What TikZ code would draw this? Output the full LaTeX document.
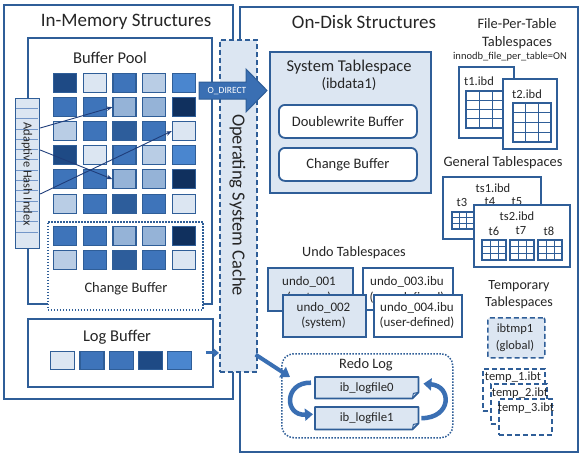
\documentclass[tikz,border=0pt]{standalone}
\usepackage{fontspec}
\setmainfont{Carlito}
\usetikzlibrary{arrows.meta,calc}
\definecolor{bord}{HTML}{2F5E98}
\definecolor{ca}{HTML}{DCE6F2}
\definecolor{cb}{HTML}{B9CDE5}
\definecolor{cc}{HTML}{95B3D7}
\definecolor{cd}{HTML}{3E74BA}
\definecolor{ce}{HTML}{4A86CF}
\definecolor{cf}{HTML}{2D5D9B}
\definecolor{cg}{HTML}{1E4A85}
\definecolor{ch}{HTML}{10305E}
\definecolor{txtc}{HTML}{262626}
\definecolor{arrc}{HTML}{3A6FB3}
\definecolor{ahiline}{HTML}{7396C8}
\definecolor{navy}{HTML}{1F3D7A}
\newcommand\gridtab[6]{%
  \draw[bord, line width=1.6, fill=white] (#1,#2) rectangle (#3,#4);
  \pgfmathtruncatemacro\gtc{#5-1}%
  \pgfmathtruncatemacro\gtr{#6-1}%
  \foreach \k in {1,...,\gtc} {\draw[bord, line width=0.9] ({#1+\k*(#3-#1)/#5},#2) -- ({#1+\k*(#3-#1)/#5},#4);}%
  \foreach \k in {1,...,\gtr} {\draw[bord, line width=0.9] (#1,{#2+\k*(#4-#2)/#6}) -- (#3,{#2+\k*(#4-#2)/#6});}%
}
\tikzset{
  frame/.style={draw=bord, line width=1.8pt, inner sep=0pt, anchor=north west},
  sq/.style={draw=bord, line width=1.2pt, inner sep=0pt, minimum width=23pt, minimum height=19pt, anchor=north west},
  lab/.style={text=txtc, inner sep=0pt, font=\fontsize{#1}{#1}\selectfont},
  lab/.default=14,
  dotbox/.style={draw=bord, line width=1.5pt, dash pattern=on 1.5pt off 1.5pt},
  dashbox/.style={draw=bord, line width=1.6pt, dash pattern=on 5pt off 3pt},
  ahiarr/.style={draw=navy, line width=0.9pt, -{Stealth[length=6pt,width=4.5pt]}},
  fatarr/.style={draw=arrc, line width=4pt, -{Triangle[length=9pt,width=12pt]}},
  curvarr/.style={draw=arrc, line width=4.5pt, -{Triangle[length=8pt,width=12pt]}},
}
\begin{document}
\begin{tikzpicture}[x=1pt,y=-1pt]
\useasboundingbox (0,0) rectangle (586,459);
\fill[white] (0,0) rectangle (586,459);

% outer frames
\node[frame, minimum width=229, minimum height=394] (inmem) at (3,4) {};
\node[frame, minimum width=338, minimum height=445] (ondisk) at (239,6) {};
\node[lab=19] (inmemtitle) at (126,22) {In-Memory Structures};
\node[lab=19] (ondisktitle) at (364,22) {On-Disk Structures};

% buffer pool
\node[frame, fill=white, minimum width=184, minimum height=266] (bufpool) at (27,37) {};
\node[lab=16.5] (bptitle) at (110,58) {Buffer Pool};
\node[dotbox, fill=white, inner sep=0pt, anchor=north west, minimum width=155, minimum height=88] (cbuf) at (47,221) {};
\node[lab=14.5] (cbtitle) at (126,289) {Change Buffer};

\foreach \r/\yy/\L in {1/73/{cg,ca,cd,cb,ce},2/97/{cd,cd,cc,cc,ch},3/121/{cb,cd,cf,cd,ca},4/145/{cg,ca,cd,cb,ce},5/169/{cd,cd,cc,cc,ch},6/194/{cb,cd,cf,cd,ca},7/226/{cd,cd,cc,cc,ch},8/250/{cb,cd,cf,cd,ca}}{
  \foreach \c [count=\i] in \L {
    \node[sq, fill=\c] (bp-\r-\i) at ({53+(\i-1)*29.7},\yy) {};
  }
}

% adaptive hash index
\node[draw=bord, fill=ca, line width=1.2pt, inner sep=0pt, anchor=north west, minimum width=24, minimum height=150] (ahi) at (15,98) {};
\foreach \k in {1,...,13} {\draw[ahiline, line width=0.8pt] ($(ahi.north west)+(0.8,\k*10.3)$) -- ++(22.4,0);}
\node[lab=12.4, rotate=-90] (ahitext) at (27,174) {Adaptive Hash Index};
\draw[ahiarr] ($(ahi.north east)+(0,30)$) -- (bp-2-3.west);
\draw[ahiarr] ($(ahi.north east)+(0,52)$) -- (bp-5-3.west);
\draw[ahiarr] ($(ahi.north east)+(0,96)$) -- (bp-3-5.west);

% log buffer
\node[frame, fill=white, minimum width=185, minimum height=68] (logbuf) at (27,318) {};
\node[lab=16.5] (lbtitle) at (117,337) {Log Buffer};
\foreach \c [count=\i] in {ca,cd,cd,cg,ce} {
  \node[sq, fill=\c, minimum width=24, minimum height=18] (lb-\i) at ({50+(\i-1)*29.3},351) {};
}

% OS cache
\node[dashbox, fill=ca, inner sep=0pt, anchor=north west, minimum width=37, minimum height=332] (oscache) at (219,39) {};
\node[lab=18.5, rotate=-90] (ostext) at (237.5,205) {Operating System Cache};
\draw[draw=arrc, line width=3pt, -{Triangle[length=5pt,width=8pt]}] ($(logbuf.east)+(-8,0)$) -- (oscache.west |- logbuf.east);

% system tablespace
\node[frame, fill=ca, line width=2.2pt, minimum width=161, minimum height=141] (systs) at (269,51) {};
\node[lab=16.5] (systitle) at (349,67) {System Tablespace};
\node[lab=15] (sysfile) at (349,84) {(ibdata1)};
\node[frame, fill=white, rounded corners=6pt, minimum width=138, minimum height=33] (dwb) at (278,104) {};
\node[lab=14.5] (dwbtext) at (dwb.center) {Doublewrite Buffer};
\node[frame, fill=white, rounded corners=6pt, minimum width=138, minimum height=33] (cbdisk) at (278,147) {};
\node[lab=14.5] (cbdtext) at (cbdisk.center) {Change Buffer};

% O_DIRECT arrow
\filldraw[fill=arrc, draw=bord, line width=1pt] (199,82) -- (246,82) -- (246,69) -- (267,90.5) -- (246,112) -- (246,99) -- (199,99) -- cycle;
\node[inner sep=0pt, text=white, font=\fontsize{9.5}{9.5}\selectfont] (odirect) at (227,91) {O\_DIRECT};

% file-per-table
\node[lab=14.4] (fpt1) at (517,24) {File-Per-Table};
\node[lab=14.4] (fpt2) at (517,43) {Tablespaces};
\node[lab=10.5] (fpt3) at (510,57) {innodb\_file\_per\_table=ON};
\node[frame, fill=white, line width=2.2pt, minimum width=55, minimum height=71] (t1) at (458,66) {};
\node[lab=12.5] (t1text) at (479,81) {t1.ibd};
\gridtab{466}{91}{505}{128}{3}{4}
\node[frame, fill=white, line width=2.2pt, minimum width=54, minimum height=70] (t2) at (502,78) {};
\node[lab=12.5] (t2text) at (527,94) {t2.ibd};
\gridtab{513}{103}{551}{142}{3}{4}

% general tablespaces
\node[lab=14.4] (gentitle) at (503,163) {General Tablespaces};
\node[frame, fill=white, line width=2pt, minimum width=98, minimum height=62] (ts1) at (442,176) {};
\node[lab=12.5] (ts1text) at (493,188) {ts1.ibd};
\node[lab=12.5] (t3) at (462,202) {t3};
\node[lab=12.5] (t4) at (490,202) {t4};
\node[lab=12.5] (t5) at (517,202) {t5};
\gridtab{452}{212}{481}{229}{4}{3}
\node[frame, fill=white, line width=2pt, minimum width=96, minimum height=62] (ts2) at (473,204) {};
\node[lab=12.5] (ts2text) at (517,216) {ts2.ibd};
\node[lab=12.5] (t6) at (494,231) {t6};
\node[lab=12.5] (t7) at (521,231) {t7};
\node[lab=12.5] (t8) at (549,231) {t8};
\gridtab{482}{240}{506}{260}{3}{3}
\gridtab{510}{240}{534}{260}{3}{3}
\gridtab{538}{240}{562}{260}{3}{3}

% undo tablespaces
\node[lab=14.2] (undotitle) at (354,253) {Undo Tablespaces};
\node[frame, fill=ca, line width=2pt, minimum width=85, minimum height=43] (u1) at (267,267) {};
\node[lab=13] (u1a) at (309,282) {undo\_001};
\node[lab=13] (u1b) at (309,298) {(system)};
\node[frame, fill=white, line width=2pt, minimum width=90, minimum height=42] (u3) at (362,267) {};
\node[lab=13] (u3a) at (407,282) {undo\_003.ibu};
\node[lab=13] (u3b) at (407,298) {(user-defined)};
\node[frame, fill=ca, line width=2pt, minimum width=83, minimum height=42] (u2) at (282,294) {};
\node[lab=13] (u2a) at (323.5,308) {undo\_002};
\node[lab=13] (u2b) at (323.5,323) {(system)};
\node[frame, fill=white, line width=2pt, minimum width=88, minimum height=42] (u4) at (373,294) {};
\node[lab=13] (u4a) at (417,308) {undo\_004.ibu};
\node[lab=13] (u4b) at (417,323) {(user-defined)};

% redo log
\node[dotbox, rounded corners=12pt, inner sep=0pt, anchor=north west, minimum width=171, minimum height=84] (redo) at (281,353) {};
\node[lab=14.4] (redotitle) at (366,365) {Redo Log};
\node[inner sep=0pt, anchor=north west, minimum width=103, minimum height=21] (log0) at (315,377) {};
\node[inner sep=0pt, anchor=north west, minimum width=103, minimum height=22] (log1) at (315,407) {};
\foreach \n in {log0,log1} {
  \filldraw[fill=ca, draw=bord, line width=1.8pt, line join=round] (\n.north west) -- (\n.north east) -- ($(\n.south east)+(0,-6)$) -- ($(\n.south east)+(-6,0)$) -- (\n.south west) -- cycle;
  \draw[bord, line width=1pt] ($(\n.south east)+(0,-6)$) -- ($(\n.south east)+(-5,-5)$) -- ($(\n.south east)+(-6,0)$);
}
\node[lab=12.7] (log0text) at (log0.center) {ib\_logfile0};
\node[lab=12.7] (log1text) at (log1.center) {ib\_logfile1};
\draw[curvarr] ($(log0.west)+(-4,-5)$) .. controls (284,382) and (284,416) .. ($(log1.west)+(-2,-4)$);
\draw[curvarr] ($(log1.east)+(3,0)$) .. controls (452,418) and (452,386) .. ($(log0.east)+(5,-4)$);

% OS cache -> redo
\coordinate (redoin) at ($(redo.north west)+(9,24)$);
\draw[fatarr] ($(oscache.south east)+(-2,-18)$) -- (redoin);

% temporary tablespaces
\node[lab=14] (tmptitle1) at (519,286) {Temporary};
\node[lab=14] (tmptitle2) at (519,303) {Tablespaces};
\node[dashbox, fill=ca, rounded corners=2pt, inner sep=0pt, anchor=north west, minimum width=57, minimum height=40] (tmpg) at (487,317) {};
\node[lab=12.5] (tmpga) at (515,329) {ibtmp1};
\node[lab=12.5] (tmpgb) at (515,346) {(global)};
\node[dashbox, fill=white, inner sep=0pt, anchor=north west, minimum width=62, minimum height=42] (tmp1) at (482,368) {};
\node[lab=12.5] (tmp1text) at (513,377) {temp\_1.ibt};
\node[dashbox, fill=white, inner sep=0pt, anchor=north west, minimum width=56, minimum height=40] (tmp2) at (490,383) {};
\node[lab=12.5] (tmp2text) at (520,393) {temp\_2.ibt};
\node[dashbox, fill=white, inner sep=0pt, anchor=north west, minimum width=53, minimum height=36] (tmp3) at (498,398) {};
\node[lab=12.5] (tmp3text) at (526,408) {temp\_3.ibt};
\end{tikzpicture}
\end{document}
